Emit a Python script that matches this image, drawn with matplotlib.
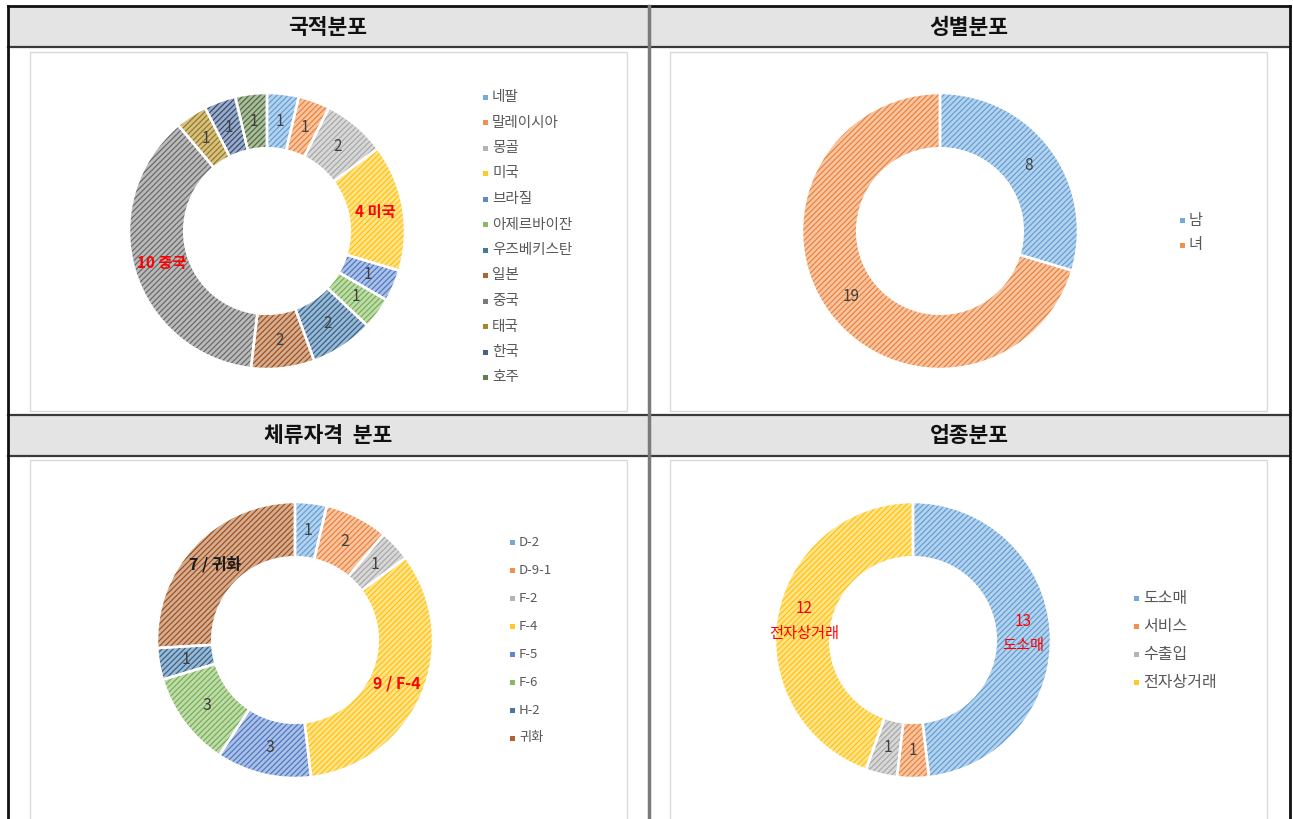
import matplotlib
matplotlib.use('Agg')
from matplotlib import pyplot as plt
from matplotlib.patches import Rectangle
import matplotlib.colors as mcolors
import numpy as np

plt.rcParams['font.family'] = ['Noto Sans CJK KR', 'DejaVu Sans']
plt.rcParams['hatch.linewidth'] = 0.8

W, H = 1293, 819

office = ['#5B9BD5', '#ED7D31', '#A5A5A5', '#FFC000', '#4472C4', '#70AD47',
          '#255E91', '#9E480E', '#636363', '#997300', '#264478', '#43682B']

# 국적분포
nat_names = ['네팔', '말레이시아', '몽골', '미국', '브라질', '아제르바이잔',
             '우즈베키스탄', '일본', '중국', '태국', '한국', '호주']
nat_values = [1, 1, 2, 4, 1, 1, 2, 2, 10, 1, 1, 1]
nat_labels = ['1', '1', '2', '4 미국', '1', '1', '2', '2', '10 중국', '1', '1', '1']
nat_hl = {3: ('#FF0000', 'bold'), 8: ('#FF0000', 'bold')}

# 성별분포
sex_names = ['남', '녀']
sex_values = [8, 19]
sex_labels = ['8', '19']
sex_hl = {}

# 체류자격 분포
visa_names = ['D-2', 'D-9-1', 'F-2', 'F-4', 'F-5', 'F-6', 'H-2', '귀화']
visa_values = [1, 2, 1, 9, 3, 3, 1, 7]
visa_labels = ['1', '2', '1', '9 / F-4', '3', '3', '1', '7 / 귀화']
visa_hl = {3: ('#FF0000', 'bold'), 7: ('#1a1a1a', 'bold')}

# 업종분포
biz_names = ['도소매', '서비스', '수출입', '전자상거래']
biz_values = [13, 1, 1, 12]
biz_labels = ['13\n도소매', '1', '1', '12\n전자상거래']
biz_hl = {0: ('#FF0000', 'normal'), 3: ('#FF0000', 'normal')}

titles = ['국적분포', '성별분포', '체류자격  분포', '업종분포']


def light(c, k=0.55):
    r, g, b = mcolors.to_rgb(c)
    return (r + (1 - r) * k, g + (1 - g) * k, b + (1 - b) * k)


fig = plt.figure(figsize=(W / 100, H / 100), dpi=100)
bg = fig.add_axes([0, 0, 1, 1])
bg.set_xlim(0, W)
bg.set_ylim(H, 0)
bg.axis('off')

# table
for y0, y1 in [(6, 47), (415, 456)]:
    bg.add_patch(Rectangle((8, y0), 1290 - 8, y1 - y0, facecolor='#E4E4E4', edgecolor='none'))
for y in [47, 415, 456]:
    bg.plot([8, 1290], [y, y], color='#3a3a3a', lw=1.6)
bg.plot([8, 1290], [6, 6], color='#111111', lw=2)
bg.plot([8, 8], [6, H], color='#111111', lw=2)
bg.plot([1290, 1290], [6, H], color='#111111', lw=2)
bg.plot([649, 649], [6, H], color='#7a7a7a', lw=2.5)

for t, (x, y) in zip(titles, [(328, 27), (969, 27), (328, 436), (969, 436)]):
    bg.text(x, y, t, ha='center', va='center', fontsize=15.5, fontweight='bold', color='#111111')

# chart frames
for x0, y0, x1, y1 in [(30, 52, 627, 411), (670, 52, 1267, 411),
                       (30, 460, 627, 830), (670, 460, 1267, 830)]:
    bg.add_patch(Rectangle((x0, y0), x1 - x0, y1 - y0, facecolor='none',
                           edgecolor='#DADADA', lw=1))


def donut(cx, cy, r, values, colors, labels, hl, fs):
    ax = fig.add_axes([(cx - r) / W, 1 - (cy + r) / H, 2 * r / W, 2 * r / H])
    wedges, _ = ax.pie(values, colors=[light(c) for c in colors], startangle=90,
                       counterclock=False, radius=1, wedgeprops=dict(width=0.4, linewidth=0))
    for w, c in zip(wedges, colors):
        w.set_hatch('//////')
        w.set_edgecolor(c)
        w.set_linewidth(0)
    ax.pie(values, colors=['none'] * len(values), startangle=90, counterclock=False,
           radius=1, wedgeprops=dict(width=0.4, edgecolor='white', linewidth=1.8))
    total = float(sum(values))
    cum = 0
    for i, (v, lab) in enumerate(zip(values, labels)):
        ang = np.deg2rad(90 - (cum + v / 2) / total * 360)
        cum += v
        col, wt = hl.get(i, ('#404040', 'normal'))
        ax.text(0.8 * np.cos(ang), 0.8 * np.sin(ang), lab, ha='center', va='center',
                fontsize=fs, color=col, fontweight=wt, linespacing=1.6)
    ax.set_xlim(-1, 1)
    ax.set_ylim(-1, 1)
    ax.axis('off')


def legend(x, y0, dy, names, colors, fs):
    for i, (n, c) in enumerate(zip(names, colors)):
        y = y0 + i * dy
        bg.add_patch(Rectangle((x - 2.5, y - 2.5), 5, 5, facecolor=light(c, 0.15), edgecolor='none'))
        bg.text(x + 7, y, n, ha='left', va='center', fontsize=fs, color='#595959')


donut(267, 231, 138, nat_values, office, nat_labels, nat_hl, 11)
legend(485, 97, 25.5, nat_names, office, 10.5)

donut(940, 231, 138, sex_values, office[:2], sex_labels, sex_hl, 11)
legend(1182, 220, 25, sex_names, office[:2], 11)

donut(295, 640, 138, visa_values, office[:8], visa_labels, visa_hl, 11.5)
legend(512, 542, 28, visa_names, office[:8], 9.5)

donut(913, 640, 138, biz_values, office[:4], biz_labels, biz_hl, 11)
legend(1136, 598, 28, biz_names, office[:4], 11.5)

fig.savefig('out.png', dpi=100)
